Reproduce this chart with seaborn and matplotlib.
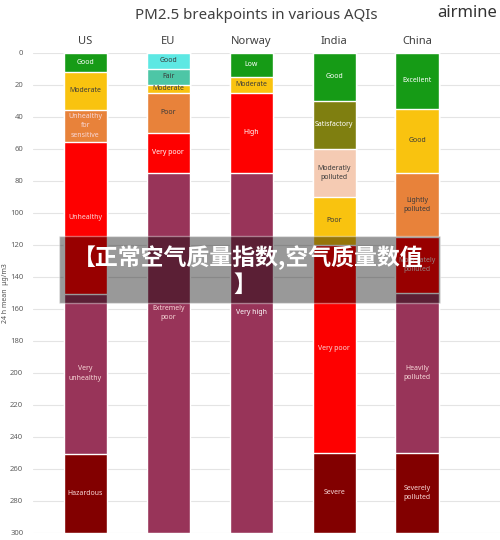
import matplotlib
matplotlib.use("Agg")
import matplotlib.pyplot as plt
import matplotlib.patches as mpatches
import seaborn as sns
import pandas as pd

# ---------------- data ----------------
countries = ["US", "EU", "Norway", "India", "China"]

us_bounds = [0, 12, 35.5, 55.5, 150.5, 250.5, 300]
us_labels = ["Good", "Moderate", "Unhealthy\nfor\nsensitive", "Unhealthy", "Very\nunhealthy", "Hazardous"]

eu_bounds = [0, 10, 20, 25, 50, 75, 300]
eu_labels = ["Good", "Fair", "Moderate", "Poor", "Very poor", "Extremely\npoor"]

norway_bounds = [0, 15, 25, 75, 300]
norway_labels = ["Low", "Moderate", "High", "Very high"]

india_bounds = [0, 30, 60, 90, 120, 250, 300]
india_labels = ["Good", "Satisfactory", "Moderatly\npolluted", "Poor", "Very poor", "Severe"]

china_bounds = [0, 35, 75, 115, 150, 250, 300]
china_labels = ["Excellent", "Good", "Lightly\npolluted", "Moderately\npolluted", "Heavily\npolluted", "Severely\npolluted"]

yticks = list(range(0, 301, 20))

# ---------------- styles ----------------
GREEN = "#169B16"; YELLOW = "#F9C30F"; ORANGE = "#E8823A"; RED = "#FE0000"
MAROON = "#983459"; DARKRED = "#820000"; CYAN = "#5DE8E3"; TEAL = "#4DC6A6"
OLIVE = "#7F7F10"; PEACH = "#F5CBB3"
W = "white"; D = "#3a3a3a"; P = "#F8D8D8"

seg_colors = {
    "US": [GREEN, YELLOW, ORANGE, RED, MAROON, DARKRED],
    "EU": [CYAN, TEAL, YELLOW, ORANGE, RED, MAROON],
    "Norway": [GREEN, YELLOW, RED, MAROON],
    "India": [GREEN, OLIVE, PEACH, YELLOW, RED, DARKRED],
    "China": [GREEN, YELLOW, ORANGE, RED, MAROON, DARKRED],
}
txt_colors = {
    "US": [W, D, P, P, P, P],
    "EU": [D, D, D, D, W, P],
    "Norway": [W, D, W, W],
    "India": [W, W, D, D, P, P],
    "China": [W, D, D, P, P, P],
}

bounds = {"US": us_bounds, "EU": eu_bounds, "Norway": norway_bounds,
          "India": india_bounds, "China": china_bounds}
labels = {"US": us_labels, "EU": eu_labels, "Norway": norway_labels,
          "India": india_labels, "China": china_labels}

rows = []
for c in countries:
    b = bounds[c]
    for i in range(len(b) - 1):
        rows.append(dict(country=c, level=i, lo=b[i], hi=b[i + 1],
                         label=labels[c][i], color=seg_colors[c][i],
                         tcolor=txt_colors[c][i]))
df = pd.DataFrame(rows)

# ---------------- figure ----------------
sns.set_style("white")
plt.rcParams["font.family"] = ["Noto Sans", "DejaVu Sans"]

fig = plt.figure(figsize=(5.0, 5.4), dpi=100)
ax = fig.add_axes([0.066, 0.013, 0.934, 0.889])

for lvl in sorted(df.level.unique(), reverse=True):
    sub = df[df.level == lvl]
    pal = {c: "#ffffff" for c in countries}
    pal.update(dict(zip(sub.country, sub.color)))
    sns.barplot(data=sub, x="country", y="hi", hue="country", order=countries,
                hue_order=countries, palette=pal, legend=False, dodge=False,
                width=0.52, edgecolor="white", linewidth=1.0, saturation=1,
                ax=ax, zorder=2)

for _, r in df.iterrows():
    xi = countries.index(r.country)
    hi = min(r.hi, 250) if r.lo < 250 else r.hi
    yc = (r.lo + hi) / 2
    ax.text(xi, yc, r.label, ha="center", va="center", fontsize=5.0,
            color=r.tcolor, linespacing=1.5, zorder=3)

ax.set_ylim(300, 0)
ax.set_xlim(-0.63, 5.0)
ax.set_yticks(yticks)
ax.yaxis.grid(True, color="#e4e4e4", linewidth=0.8)
ax.set_axisbelow(True)
for s in ax.spines.values():
    s.set_visible(False)
ax.xaxis.tick_top()
ax.tick_params(axis="x", length=0, labelsize=8, labelcolor="#404040", pad=4)
ax.tick_params(axis="y", length=0, labelsize=5.5, labelcolor="#606060", pad=7)
ax.set_xlabel("")
ax.set_ylabel("24 h mean  μg/m3", fontsize=5, color="#505050")
ax.yaxis.set_label_coords(-0.052, 0.5)

fig.text(0.512, 0.972, "PM2.5 breakpoints in various AQIs", ha="center", va="center",
         fontsize=10.8, color="#404040")
fig.text(0.874, 0.976, "airmine", ha="left", va="center", fontsize=12,
         color="#333333")

# overlay banner
fig.patches.append(mpatches.Rectangle((59 / 500, 1 - 303 / 540), 381 / 500, 67 / 540,
                                      transform=fig.transFigure, facecolor="black",
                                      alpha=0.4, zorder=5))
fig.text(0.497, 1 - 258 / 540, "【正常空气质量指数,空气质量数值", ha="center", va="center",
         fontsize=16.5, fontweight="bold", color="white",
         family=["Noto Sans CJK SC", "DejaVu Sans"], zorder=6)
fig.text(0.49, 1 - 285 / 540, "】", ha="center", va="center",
         fontsize=16.5, fontweight="bold", color="white",
         family=["Noto Sans CJK SC", "DejaVu Sans"], zorder=6)

fig.savefig("out.png", dpi=100)
